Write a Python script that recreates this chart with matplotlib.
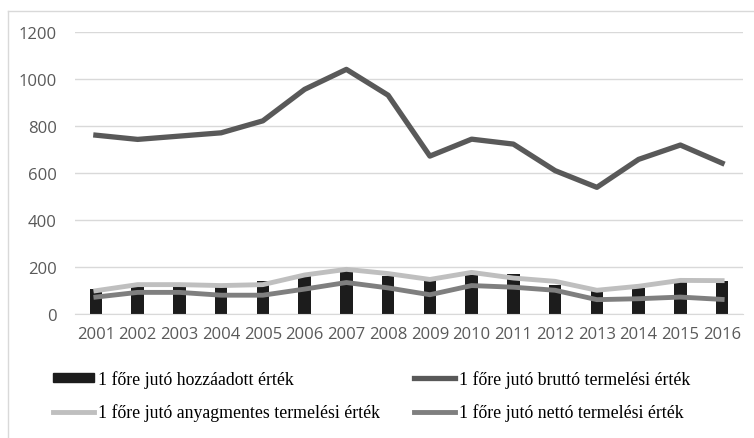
import numpy as np
import matplotlib
matplotlib.use("Agg")
import matplotlib.pyplot as plt
from matplotlib.lines import Line2D
from matplotlib.patches import Patch

# adatok (leolvasva az ábráról)
years = ['2001', '2002', '2003', '2004', '2005', '2006', '2007', '2008',
         '2009', '2010', '2011', '2012', '2013', '2014', '2015', '2016']
hozzaadott = [106, 115, 118, 115, 139, 165, 182, 163, 143, 167, 170, 125, 97, 111, 139, 139]
brutto = [761, 743, 757, 771, 822, 956, 1041, 931, 672, 744, 723, 610, 539, 658, 719, 642]
anyagmentes = [99, 125, 125, 121, 125, 166, 190, 172, 147, 177, 153, 139, 101, 118, 143, 142]
netto = [72, 92, 92, 80, 80, 106, 134, 111, 82, 121, 114, 101, 61, 65, 72, 62]

labels = ['1 főre jutó hozzáadott érték',
          '1 főre jutó anyagmentes termelési érték',
          '1 főre jutó bruttó termelési érték',
          '1 főre jutó nettó termelési érték']

c_bar = '#1c1c1c'
c_brutto = '#595959'
c_anyag = '#bfbfbf'
c_netto = '#7f7f7f'
grid_c = '#d9d9d9'

fig = plt.figure(figsize=(7.54, 4.39), dpi=100)
ax = fig.add_axes([75 / 754, 1 - 315 / 439, 668 / 754, 282 / 439])

x = np.arange(len(years))
ax.bar(x, hozzaadott, width=0.3, color=c_bar, zorder=2)
ax.plot(x, brutto, color=c_brutto, lw=3.8, solid_joinstyle='round', zorder=3)
ax.plot(x, anyagmentes, color=c_anyag, lw=3.5, solid_joinstyle='round', zorder=3)
ax.plot(x, netto, color=c_netto, lw=3.5, solid_joinstyle='round', zorder=4)

ax.set_xlim(-0.5, len(years) - 0.5)
ax.set_ylim(0, 1200)
ax.set_yticks(np.arange(0, 1201, 200))
ax.set_xticks(x)
ax.set_xticklabels(years)
ax.yaxis.grid(True, color=grid_c, lw=1)
ax.set_axisbelow(True)
for s in ['top', 'right', 'left']:
    ax.spines[s].set_visible(False)
ax.spines['bottom'].set_color(grid_c)
ax.tick_params(length=0, labelsize=12, labelcolor='#595959')
ax.tick_params(axis='x', pad=9)
ax.tick_params(axis='y', pad=13)
for t in ax.get_xticklabels() + ax.get_yticklabels():
    t.set_family('Open Sans')

# keret
fig.add_artist(Line2D([8 / 754, 8 / 754], [0, 1 - 12 / 439], color=grid_c, lw=1))
fig.add_artist(Line2D([8 / 754, 1], [1 - 12 / 439, 1 - 12 / 439], color=grid_c, lw=1))

handles = [Patch(color=c_bar),
           Line2D([], [], color=c_anyag, lw=3.5),
           Line2D([], [], color=c_brutto, lw=3.8),
           Line2D([], [], color=c_netto, lw=3.5)]
fig.legend(handles, labels, ncol=2, loc='upper left',
           bbox_to_anchor=(53 / 754, 1 - 371 / 439), frameon=False,
           prop={'family': 'Liberation Serif', 'size': 12.8},
           handlelength=2.3, handleheight=0.4, handletextpad=0.25,
           columnspacing=1.9, labelspacing=0.88, borderpad=0, borderaxespad=0)

fig.savefig('out.png', dpi=100)
